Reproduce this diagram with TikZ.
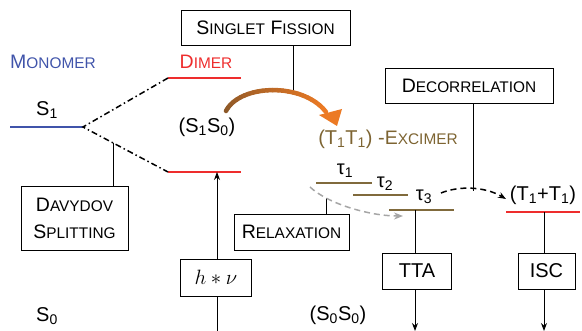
\documentclass[tikz,border=0pt]{standalone}
\usepackage{fontspec}
\setmainfont{Liberation Sans}
\usetikzlibrary{arrows.meta,calc}
\definecolor{monoblue}{RGB}{64,84,170}
\definecolor{dimred}{RGB}{238,45,45}
\definecolor{excbrown}{RGB}{125,100,50}
\definecolor{lvlbrown}{RGB}{128,106,60}
\definecolor{arrbrown}{RGB}{140,88,40}
\definecolor{arrorange}{RGB}{236,122,36}
\newcommand\SCa[2]{{\fontsize{19.5}{27}\selectfont #1}{\fontsize{15.4}{27}\selectfont #2}}
\begin{document}
\begin{tikzpicture}[x=1pt,y=-1pt,
  box/.style={draw, line width=0.9pt, rectangle, inner sep=0pt, align=center, font=\fontsize{20}{27}\selectfont},
  lbl/.style={inner sep=0pt, font=\fontsize{20}{24}\selectfont},
  level/.style={line width=1.6pt},
  conn/.style={line width=0.9pt},
  arr/.style={conn, -{Stealth[length=8pt,width=6pt]}},
  dashdot/.style={line width=1.5pt, dash pattern=on 6pt off 3pt on 1.5pt off 3pt},
  declare function={bx(\t)=(1-\t)^3*226+3*(1-\t)^2*\t*240+3*(1-\t)*\t^2*303+\t^3*326;
                    by(\t)=(1-\t)^3*111+3*(1-\t)^2*\t*84+3*(1-\t)*\t^2*82+\t^3*112;}]
\useasboundingbox (0,0) rectangle (582,331);

% labels
\node[lbl, text=monoblue] (mono) at (53,62) {\SCa{M}{ONOMER}};
\node[lbl, text=dimred] (dimer) at (206,62) {\SCa{D}{IMER}};
\node[lbl] (s1) at (47,110) {S\textsubscript{1}};
\node[lbl] (s1s0) at (207,127) {(S\textsubscript{1}S\textsubscript{0})};
\node[lbl, text=excbrown] (exc) at (388,139) {(T\textsubscript{1}T\textsubscript{1}) -\SCa{E}{XCIMER}};
\node[lbl] (tau1) at (345,171) {τ\textsubscript{1}};
\node[lbl] (tau2) at (385,184) {τ\textsubscript{2}};
\node[lbl] (tau3) at (424,197) {τ\textsubscript{3}};
\node[lbl] (tt) at (543,195) {(T\textsubscript{1}+T\textsubscript{1})};
\node[lbl] (s0) at (47,316) {S\textsubscript{0}};
\node[lbl] (s0s0) at (338,315) {(S\textsubscript{0}S\textsubscript{0})};

% levels
\coordinate (monoL) at (10,127); \coordinate (monoR) at (83,127);
\coordinate (dupL) at (168,78);  \coordinate (dupR) at (241,78);
\coordinate (dloL) at (168,172); \coordinate (dloR) at (241,172);
\coordinate (t1L) at (316,183); \coordinate (t1R) at (372,183);
\coordinate (t2L) at (353,195); \coordinate (t2R) at (408,195);
\coordinate (t3L) at (389,210); \coordinate (t3R) at (454,210);
\coordinate (ttL) at (506,212); \coordinate (ttR) at (580,212);
\draw[level, monoblue] (monoL) -- (monoR);
\draw[level, dimred] (dupL) -- (dupR);
\draw[level, dimred] (dloL) -- (dloR);
\draw[level, lvlbrown] (t1L) -- (t1R);
\draw[level, lvlbrown] (t2L) -- (t2R);
\draw[level, lvlbrown] (t3L) -- (t3R);
\draw[level, dimred] (ttL) -- (ttR);

% Davydov splitting
\draw[dashdot] (dupL) -- (monoR) -- (dloL);

% boxes
\node[box, minimum width=169pt, minimum height=35pt] (sf) at (265.5,27.5) {\SCa{S}{INGLET} \SCa{F}{ISSION}};
\node[box, minimum width=168pt, minimum height=35pt] (dec) at (469,85.5) {\SCa{D}{ECORRELATION}};
\node[box, minimum width=107pt, minimum height=64pt] (dav) at (74.5,218) {\SCa{D}{AVYDOV}\\\SCa{S}{PLITTING}};
\node[box, minimum width=115pt, minimum height=36pt] (rel) at (291.5,232) {\SCa{R}{ELAXATION}};
\node[box, minimum width=71pt, minimum height=37pt] (hv) at (216,277.5) {$h\ast\nu$};
\node[box, minimum width=69pt, minimum height=36pt] (tta) at (417,271) {TTA};
\node[box, minimum width=57pt, minimum height=36pt] (isc) at (546.5,271) {ISC};

% connectors
\coordinate (davtop) at (113,143);
\draw[conn] (davtop) -- (davtop |- dav.north);
\coordinate (sfend) at (293,93);
\draw[conn] (sfend |- sf.south) -- (sfend);
\coordinate (hvtop) at (217,172);
\draw[arr] (hvtop |- hv.north) -- (hvtop);
\coordinate (hvbot) at (217,331);
\draw[conn] (hvbot |- hv.south) -- (hvbot);
\coordinate (relend) at (326,198);
\draw[conn] (relend |- rel.north) -- (relend);
\coordinate (decend) at (473,191);
\draw[conn] (decend |- dec.south) -- (decend);
\coordinate (ttatop) at (415,210);
\draw[conn] (ttatop) -- (ttatop |- tta.north);
\coordinate (ttabot) at (415,331);
\draw[arr] (ttabot |- tta.south) -- (ttabot);
\coordinate (isctop) at (544,212);
\draw[conn] (isctop) -- (isctop |- isc.north);
\coordinate (iscbot) at (544,331);
\draw[arr] (iscbot |- isc.south) -- (iscbot);

% relaxation (grey dashed) and decorrelation (black dashed)
\coordinate (gs) at (310,187); \coordinate (ge) at (403,216);
\draw[line width=1.5pt, gray!70, dash pattern=on 6pt off 4pt, -{Stealth[length=9pt,width=7pt]}]
  (gs) .. controls (328,204) and (370,216) .. (ge);
\coordinate (bs) at (441,193); \coordinate (be) at (506,199);
\draw[line width=1.5pt, dash pattern=on 6pt off 4pt, -{Stealth[length=8pt,width=6pt]}]
  (bs) .. controls (458,186) and (484,186) .. (be);

% singlet fission arrow (brown to orange)
\foreach \i in {0,...,23}{
  \pgfmathsetmacro\ta{\i/24}
  \pgfmathsetmacro\tb{(\i+1)/24}
  \pgfmathtruncatemacro\c{100-\i*100/23}
  \draw[line width=4.5pt, line cap=round, color=arrbrown!\c!arrorange]
    plot[domain=\ta:\tb, samples=4, variable=\t] ({bx(\t)},{by(\t)});
}
\fill[arrorange] (319,115) -- (337,126) -- (342,109) -- cycle;
\end{tikzpicture}
\end{document}
